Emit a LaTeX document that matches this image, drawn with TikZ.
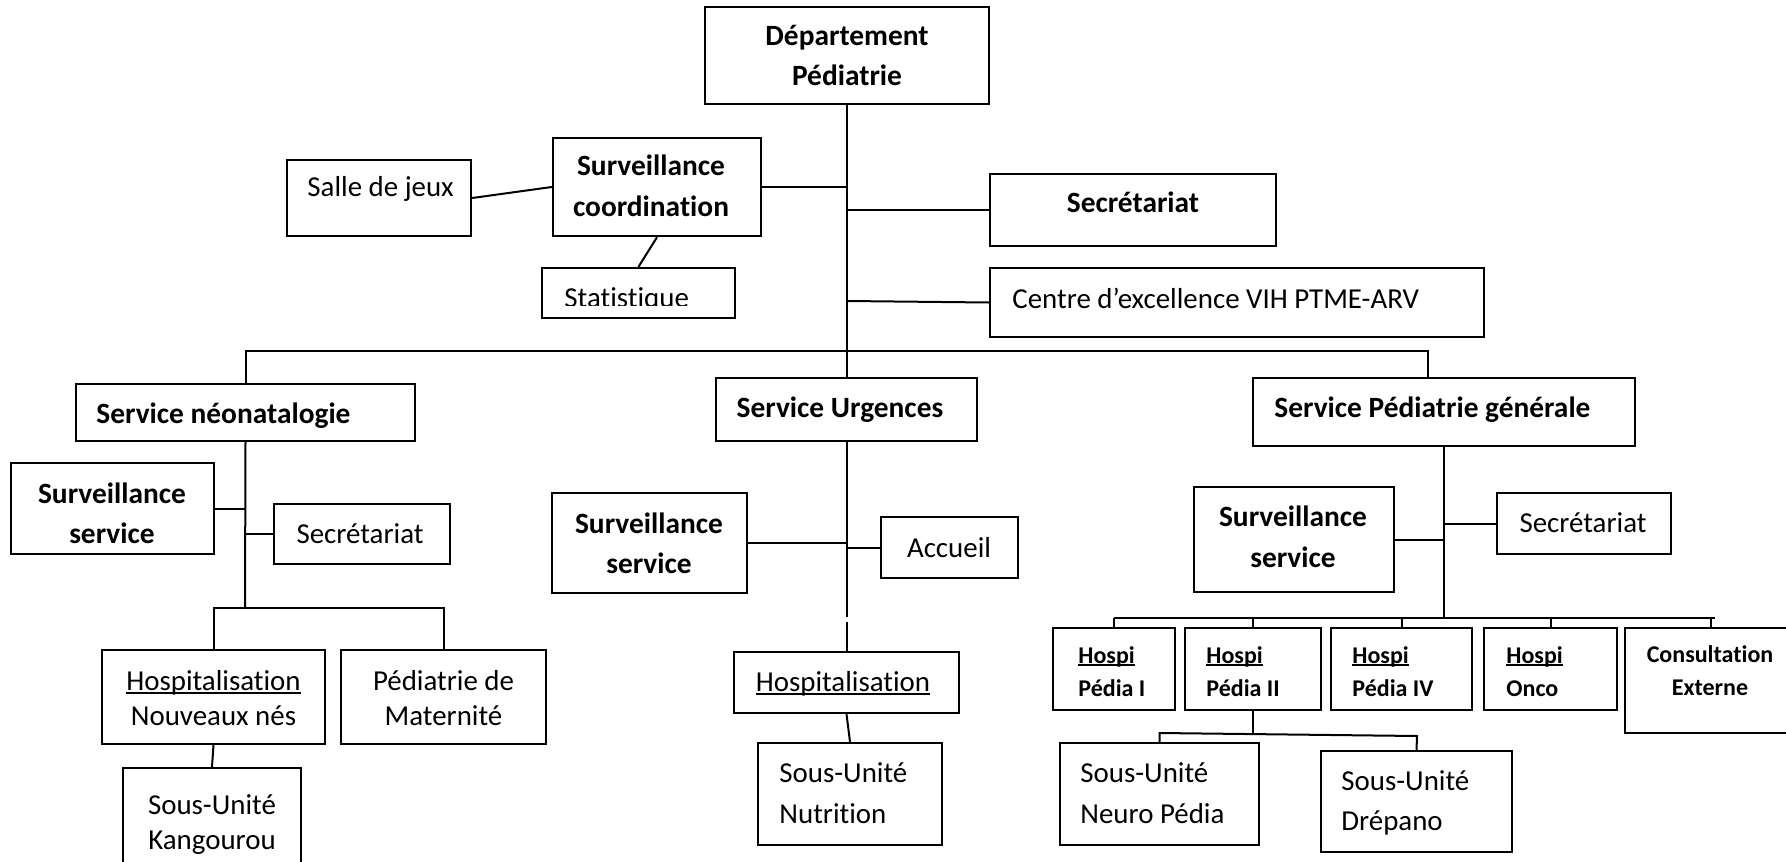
\documentclass[tikz,border=0pt]{standalone}
\usepackage{fontspec}
\setmainfont{Carlito}[Ligatures=NoCommon]
\usetikzlibrary{fit}
\newcommand\myul[1]{\setbox0\hbox{#1}\rlap{\rule[-0.13em]{\wd0}{0.07em}}\box0}
\begin{document}
\begin{tikzpicture}[x=0.5pt,y=-0.5pt,
  box/.style={draw, line width=1.2pt, inner sep=0pt, rectangle},
  conn/.style={line width=1pt},
  bign/.style={inner sep=0pt, anchor=base, font=\fontsize{14.45}{17}\selectfont},
  bigb/.style={inner sep=0pt, anchor=base, font=\fontsize{14.7}{17}\selectfont\bfseries},
  smb/.style={inner sep=0pt, anchor=base west, font=\fontsize{12}{14}\selectfont\bfseries}]
\fill[white] (0,0) rectangle (1786,861);
\clip (0,0) rectangle (1786,861);

% ---------- top level ----------
\node[box, fit={(705,7) (989,104)}] (dep) {};
\node[bigb] (dep1) at (847,46) {Département};
\node[bigb] (dep2) at (847,86) {Pédiatrie};

\node[box, fit={(287,160) (471,236)}] (salle) {};
\node[bign, anchor=base west] (salle1) at (307,197) {Salle de jeux};

\node[box, fit={(553,138) (761,236)}] (sc) {};
\node[bigb] (sc1) at (651,176) {Surveillance};
\node[bigb] (sc2) at (651,217) {coordination};

\node[box, fit={(542,268) (735,318)}] (stat) {};
\begin{scope}
\clip (542,268) rectangle (735,305.5);
\node[bign, anchor=base west] (stat1) at (564,307) {Statistique};
\end{scope}

\node[box, fit={(990,174) (1276,246)}] (sect) {};
\node[bigb] (sect1) at (1133,213) {Secrétariat};

\node[box, fit={(990,268) (1484,337)}] (centre) {};
\node[bign, anchor=base west] (centre1) at (1012,308) {Centre d’excellence VIH PTME-ARV};

% ---------- services ----------
\node[box, fit={(76,384) (415,441)}] (neo) {};
\node[bigb, anchor=base west] (neo1) at (96,423) {Service néonatalogie};

\node[box, fit={(716,378) (977,441)}] (urg) {};
\node[bigb] (urg1) at (840,417) {Service Urgences};

\node[box, fit={(1253,378) (1635,446)}] (pg) {};
\node[bigb, anchor=base west] (pg1) at (1274,417) {Service Pédiatrie générale};

% ---------- neonatalogie ----------
\node[box, fit={(11,463) (214,554)}] (nsurv) {};
\node[bigb] (nsurv1) at (112,503) {Surveillance};
\node[bigb] (nsurv2) at (112,543) {service};

\node[box, fit={(274,504) (450,564)}] (nsec) {};
\node[bign] (nsec1) at (360,543) {Secrétariat};

\node[box, fit={(102,650) (325,744)}] (nhosp) {};
\node[bign] (nhosp1) at (213.5,690) {\myul{Hospitalisation}};
\node[bign] (nhosp2) at (213.5,725) {Nouveaux nés};

\node[box, fit={(341,650) (546,744)}] (nmat) {};
\node[bign] (nmat1) at (443.5,690) {Pédiatrie de};
\node[bign] (nmat2) at (443.5,725) {Maternité};

\node[box, fit={(123,768) (301,900)}] (nk) {};
\node[bign] (nk1) at (212,814) {Sous-Unité};
\node[bign] (nk2) at (212,849) {Kangourou};

% ---------- urgences ----------
\node[box, fit={(552,493) (747,593)}] (usurv) {};
\node[bigb] (usurv1) at (649,533) {Surveillance};
\node[bigb] (usurv2) at (649,573) {service};

\node[box, fit={(881,517) (1018,578)}] (acc) {};
\node[bign] (acc1) at (949,557) {Accueil};

\node[box, fit={(734,652) (959,713)}] (uhosp) {};
\node[bign] (uhosp1) at (843,691) {\myul{Hospitalisation}};

\node[box, fit={(758,743) (942,845)}] (unut) {};
\node[bign, anchor=base west] (unut1) at (779,782) {Sous-Unité};
\node[bign, anchor=base west] (unut2) at (779,823) {Nutrition};

% ---------- pediatrie generale ----------
\node[box, fit={(1194,487) (1394,592)}] (psurv) {};
\node[bigb] (psurv1) at (1293,526) {Surveillance};
\node[bigb] (psurv2) at (1293,567) {service};

\node[box, fit={(1497,493) (1671,554)}] (psec) {};
\node[bign] (psec1) at (1583,532) {Secrétariat};

\node[box, fit={(1053,628) (1175,710)}] (h1) {};
\node[smb] (h1a) at (1078,663) {\myul{Hospi}};
\node[smb] (h1b) at (1078,696) {Pédia I};

\node[box, fit={(1185,628) (1321,710)}] (h2) {};
\node[smb] (h2a) at (1206,663) {\myul{Hospi}};
\node[smb] (h2b) at (1206,696) {Pédia II};

\node[box, fit={(1331,628) (1472,710)}] (h4) {};
\node[smb] (h4a) at (1352,663) {\myul{Hospi}};
\node[smb] (h4b) at (1352,696) {Pédia IV};

\node[box, fit={(1484,628) (1617,710)}] (ho) {};
\node[smb] (hoa) at (1506,663) {\myul{Hospi}};
\node[smb] (hob) at (1506,696) {Onco};

\node[box, fit={(1625,628) (1797,733)}] (ce) {};
\node[smb, anchor=base] (cea) at (1710,662) {Consultation};
\node[smb, anchor=base] (ceb) at (1710,695) {Externe};

\node[box, fit={(1060,743) (1259,845)}] (np) {};
\node[bign, anchor=base west] (np1) at (1080,782) {Sous-Unité};
\node[bign, anchor=base west] (np2) at (1080,823) {Neuro Pédia};

\node[box, fit={(1321,751) (1512,852)}] (dr) {};
\node[bign, anchor=base west] (dr1) at (1341,790) {Sous-Unité};
\node[bign, anchor=base west] (dr2) at (1341,830) {Drépano};

% ---------- junction coordinates ----------
\coordinate (jsc) at (847,187);
\coordinate (jsec) at (847,210);
\coordinate (jce) at (847,301);
\coordinate (bL) at (246,351);
\coordinate (bR) at (1428,351);
\coordinate (nb) at (245,608);
\coordinate (ug1) at (846.5,617);
\coordinate (ug2) at (846.5,622);
\coordinate (pb) at (1444,618);
\coordinate (pbR) at (1715,618);
\coordinate (h2j) at (1253,733);
\coordinate (h2k) at (1417,736);

% ---------- connectors ----------
\draw[conn] (dep.south) -- (dep.south |- urg.north);
\draw[conn] (salle.east) -- (sc.west);
\draw[conn] (sc.east) -- (jsc);
\draw[conn] (sc.south) -- (stat.north);
\draw[conn] (jsec) -- (sect.west);
\draw[conn] (jce) -- (centre.west);
\draw[conn] (bL |- neo.north) -- (bL) -- (bR) -- (bR |- pg.north);

% neonatalogie
\draw[conn] (neo.south) -- (nb);
\draw[conn] (nsurv.east) -- (nsurv.east -| neo.south);
\draw[conn] (nsec.west -| neo.south) -- (nsec.west);
\draw[conn] (nhosp.north) -- (nhosp.north |- nb) -- (nmat.north |- nb) -- (nmat.north);
\draw[conn] (nhosp.south) -- (nk.north);

% urgences
\draw[conn] (urg.south) -- (ug1);
\draw[conn] (ug2) -- (uhosp.north);
\draw[conn] (usurv.east) -- (usurv.east -| urg.south);
\draw[conn] (acc.west -| urg.south) -- (acc.west);
\draw[conn] (uhosp.south) -- (unut.north);

% pediatrie generale
\draw[conn] (pg.south) -- (pb);
\draw[conn] (psurv.east) -- (psurv.east -| pg.south);
\draw[conn] (psec.west -| pg.south) -- (psec.west);
\draw[conn] (h1.north |- pb) -- (pbR);
\draw[conn] (h1.north |- pb) -- (h1.north);
\draw[conn] (h2.north |- pb) -- (h2.north);
\draw[conn] (h4.north |- pb) -- (h4.north);
\draw[conn] (ho.north |- pb) -- (ho.north);
\draw[conn] (ce.north |- pb) -- (ce.north);
\draw[conn] (h2.south) -- (h2j);
\draw[conn] (np.north) -- (np.north |- h2j) -- (h2k) -- (dr.north);
\end{tikzpicture}
\end{document}
